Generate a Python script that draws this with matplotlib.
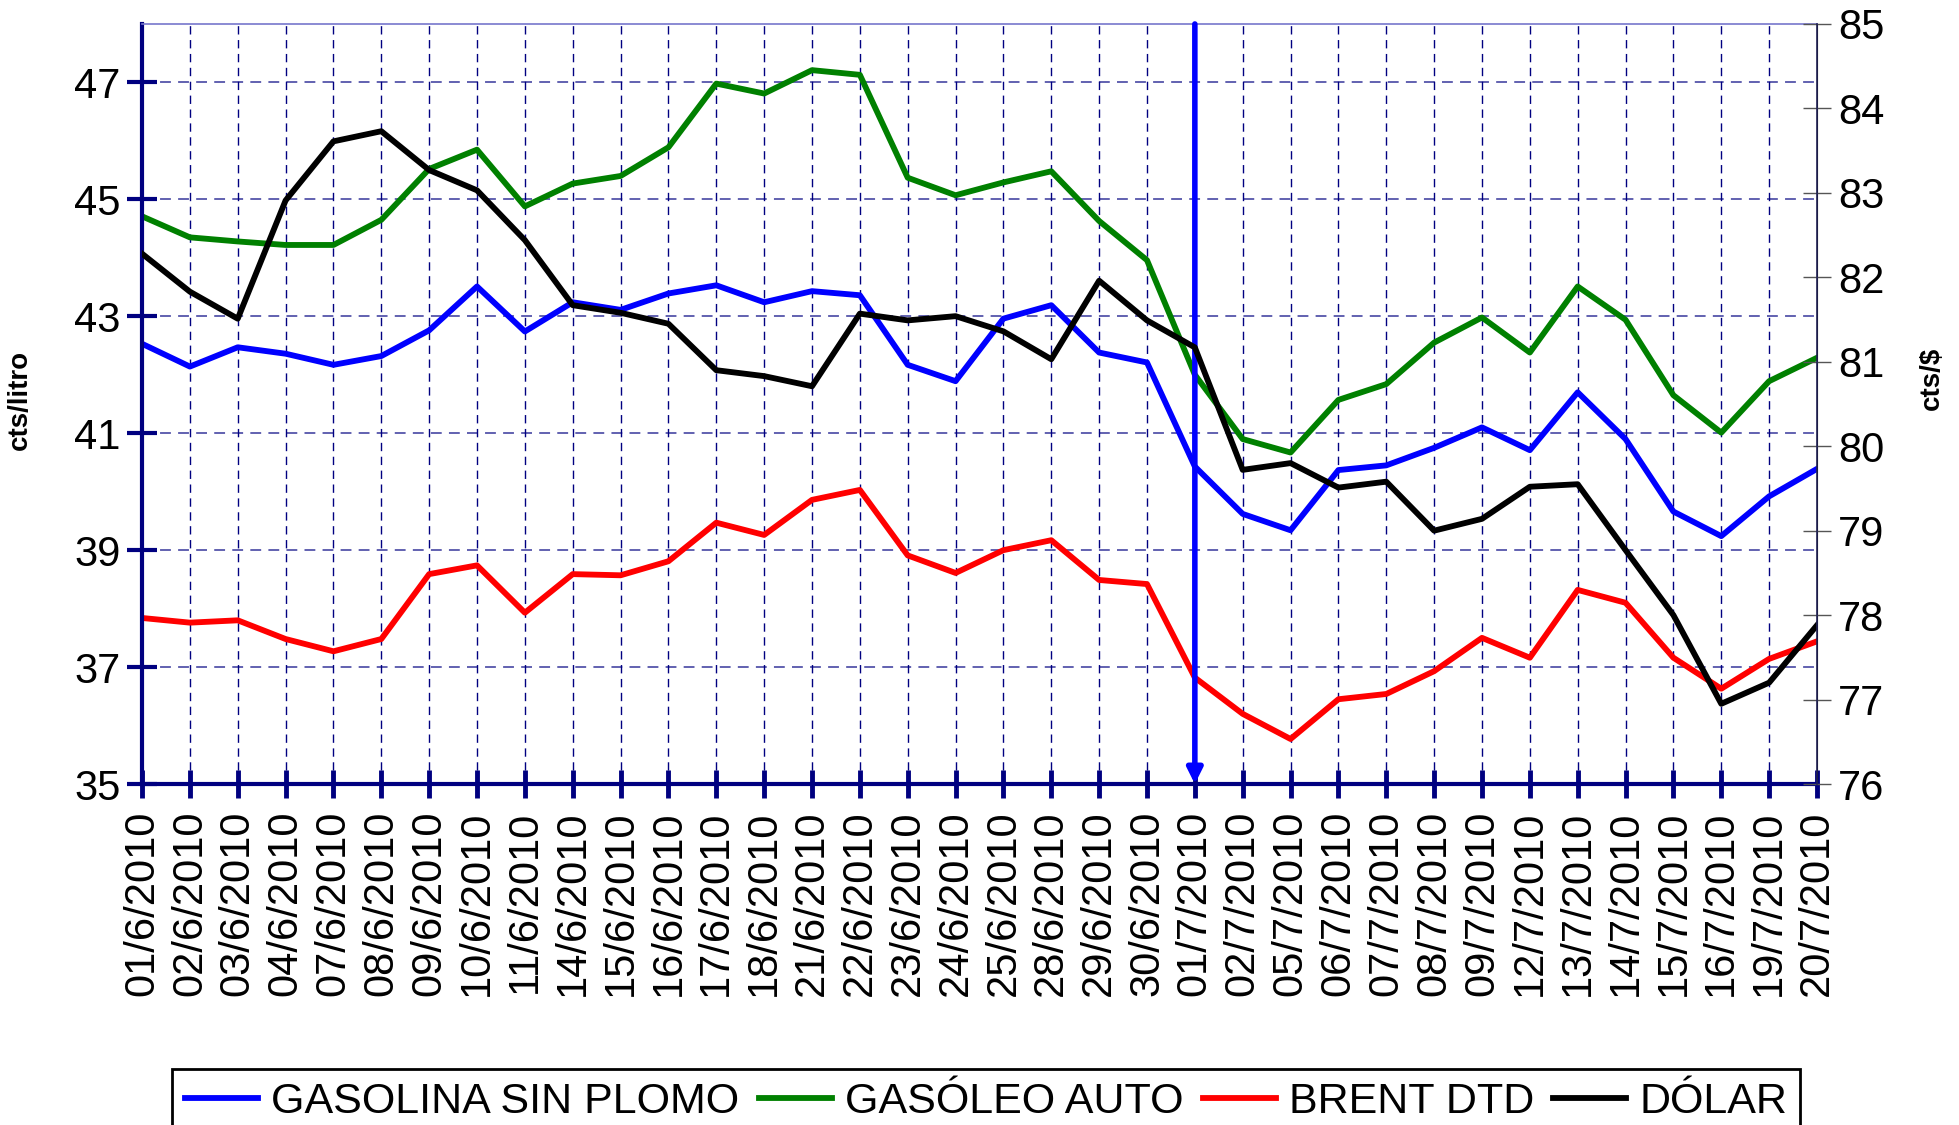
import numpy as np
import matplotlib
matplotlib.use("Agg")
import matplotlib.pyplot as plt

plt.rcParams['font.family'] = ['Liberation Sans', 'DejaVu Sans']

# fechas (días hábiles junio-julio 2010)
fechas = ['01/6/2010', '02/6/2010', '03/6/2010', '04/6/2010', '07/6/2010', '08/6/2010',
          '09/6/2010', '10/6/2010', '11/6/2010', '14/6/2010', '15/6/2010', '16/6/2010',
          '17/6/2010', '18/6/2010', '21/6/2010', '22/6/2010', '23/6/2010', '24/6/2010',
          '25/6/2010', '28/6/2010', '29/6/2010', '30/6/2010', '01/7/2010', '02/7/2010',
          '05/7/2010', '06/7/2010', '07/7/2010', '08/7/2010', '09/7/2010', '12/7/2010',
          '13/7/2010', '14/7/2010', '15/7/2010', '16/7/2010', '19/7/2010', '20/7/2010']

# cts/litro
gasolina = [42.53, 42.14, 42.47, 42.36, 42.17, 42.32, 42.76, 43.51, 42.74, 43.24, 43.11, 43.39,
            43.53, 43.24, 43.43, 43.36, 42.17, 41.89, 42.96, 43.19, 42.38, 42.21, 40.43, 39.62,
            39.34, 40.37, 40.45, 40.75, 41.10, 40.71, 41.70, 40.90, 39.66, 39.24, 39.92, 40.39]
gasoleo = [44.71, 44.35, 44.28, 44.22, 44.22, 44.65, 45.52, 45.85, 44.88, 45.27, 45.40, 45.89,
           46.98, 46.81, 47.21, 47.13, 45.37, 45.07, 45.29, 45.48, 44.63, 43.96, 42.00, 40.90,
           40.67, 41.57, 41.84, 42.55, 42.98, 42.38, 43.51, 42.94, 41.65, 41.01, 41.89, 42.29]
brent = [37.84, 37.76, 37.80, 37.48, 37.27, 37.48, 38.59, 38.74, 37.93, 38.59, 38.57, 38.81,
         39.47, 39.26, 39.86, 40.03, 38.91, 38.61, 39.00, 39.17, 38.49, 38.42, 36.82, 36.20,
         35.77, 36.45, 36.54, 36.93, 37.50, 37.16, 38.32, 38.10, 37.16, 36.63, 37.14, 37.44]
# cts/$
dolar = [82.28, 81.83, 81.51, 82.91, 83.61, 83.73, 83.27, 83.03, 82.44, 81.67, 81.58, 81.45,
         80.90, 80.83, 80.71, 81.57, 81.49, 81.54, 81.36, 81.03, 81.96, 81.49, 81.17, 79.72,
         79.80, 79.51, 79.58, 79.00, 79.14, 79.52, 79.55, 78.77, 78.00, 76.95, 77.20, 77.88]

fecha_flecha = '01/7/2010'

navy = '#000080'
x = np.arange(len(fechas))

fig = plt.figure(figsize=(19.59, 11.25), dpi=100)
ax = fig.add_axes([0.0725, 0.3031, 0.855, 0.6756])
ax2 = ax.twinx()

lw = 4.2
l1, = ax.plot(x, gasolina, color='#0000FF', lw=lw, label='GASOLINA SIN PLOMO')
l2, = ax.plot(x, gasoleo, color='#008000', lw=lw, label='GASÓLEO AUTO')
l3, = ax.plot(x, brent, color='#FF0000', lw=lw, label='BRENT DTD')
l4, = ax2.plot(x, dolar, color='black', lw=lw, label='DÓLAR')

ax.set_xlim(0, len(fechas) - 1)
ax.set_ylim(35, 48)
ax2.set_ylim(76, 85)

ax.set_yticks(np.arange(35, 48, 2))
ax2.set_yticks(np.arange(76, 86, 1))
ax.set_xticks(x)
ax.set_xticklabels(fechas, rotation=90)

# rejilla
for yv in np.arange(37, 48, 2):
    ax.axhline(yv, color='#5555aa', lw=1.3, ls=(0, (6, 4)), zorder=0.5)
for xv in x[1:-1]:
    ax.axvline(xv, color=navy, lw=1.0, ls=(0, (6, 4)), zorder=0.5)

ax.tick_params(axis='y', direction='inout', length=21, width=3, color=navy,
               labelsize=30, pad=5)
ax.tick_params(axis='x', direction='inout', length=20, width=3.5, color=navy,
               labelsize=30, pad=9)
ax2.tick_params(axis='y', direction='inout', length=20, width=1, color='#555555',
                labelsize=30, pad=5)

ax.spines['left'].set_color(navy)
ax.spines['left'].set_linewidth(3)
ax.spines['bottom'].set_color(navy)
ax.spines['bottom'].set_linewidth(3)
ax.spines['top'].set_color('#7777cc')
ax.spines['top'].set_linewidth(1.2)
ax2.spines['right'].set_color('#222255')
ax2.spines['right'].set_linewidth(1.2)
ax2.spines['left'].set_visible(False)
ax2.spines['top'].set_visible(False)
ax2.spines['bottom'].set_visible(False)

ax.set_ylabel('cts/litro', fontsize=20, fontweight='bold')
ax.yaxis.set_label_coords(-0.065, 0.505)
ax2.set_ylabel('cts/$', fontsize=20, fontweight='bold')
ax2.yaxis.set_label_coords(1.061, 0.534)

# flecha vertical
xa = fechas.index(fecha_flecha)
ax.annotate('', xy=(xa, 35), xytext=(xa, 48),
            arrowprops=dict(arrowstyle='-|>,head_length=0.9,head_width=0.45',
                            color='#0000FF', lw=4, shrinkA=0, shrinkB=0),
            annotation_clip=False, zorder=5)

leg = fig.legend(handles=[l1, l2, l3, l4], loc='upper left', ncol=4,
                 bbox_to_anchor=(172 / 1959, 1 - 1069 / 1125), borderaxespad=0,
                 fontsize=31, frameon=True, fancybox=False, edgecolor='black',
                 framealpha=1, handlelength=1.7, handletextpad=0.3,
                 columnspacing=0.45, borderpad=0.3)
leg.get_frame().set_linewidth(2)

fig.savefig('out.png', dpi=100)
